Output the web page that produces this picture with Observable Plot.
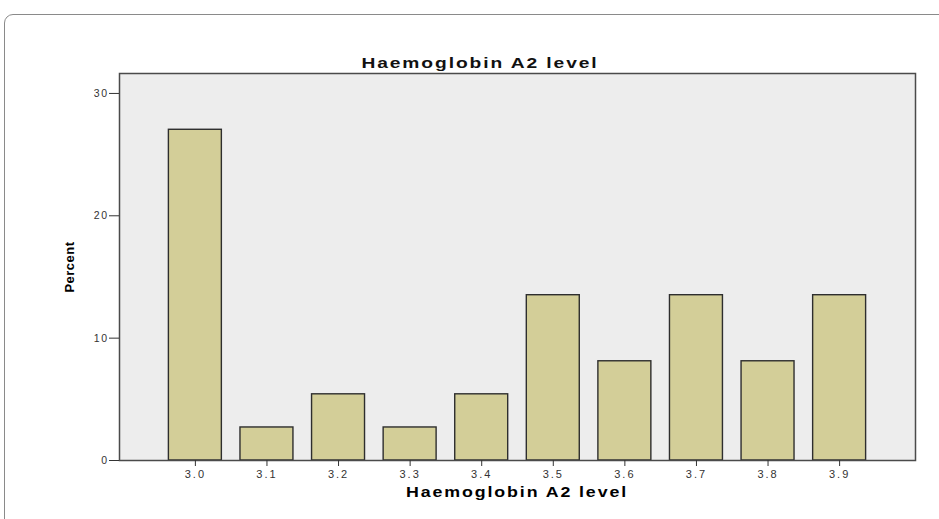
<!DOCTYPE html>
<html>
<head>
<meta charset="utf-8">
<script src="https://cdn.jsdelivr.net/npm/d3@7"></script>
<script src="https://cdn.jsdelivr.net/npm/@observablehq/plot@0.6"></script>
<style>
  html, body { margin: 0; padding: 0; background: #fff; }
  #wrap { position: relative; width: 939px; height: 519px; overflow: hidden; font-family: "Liberation Sans", Arial, sans-serif; }
  #border { position: absolute; left: 4px; top: 14px; width: 960px; height: 540px; border: 1.5px solid #8a8a8a; border-radius: 9px; box-sizing: border-box; }
  #title { position: relative; height: 55px; width: 939px; }
  #title span { position: absolute; left: 480px; top: 55px; white-space: nowrap; font-size: 15px; line-height: 15px; font-weight: bold; letter-spacing: 1.5px; color: #111; transform: translateX(-50%) scaleX(1.28); transform-origin: center; }
  #chart { position: relative; }
  #chart svg { display: block; }
  #xlabel { position: relative; height: 35px; width: 939px; }
  #xlabel span { position: absolute; left: 517px; top: 1px; white-space: nowrap; font-size: 14px; line-height: 14px; font-weight: bold; letter-spacing: 1.5px; color: #000; transform: translateX(-50%) scaleX(1.27); transform-origin: center; }
  g[aria-label="y-axis label"] text { font-weight: bold; font-size: 13px; letter-spacing: 0.5px; fill: #000; }
  g[aria-label="x-axis tick label"] text { font-size: 11px; letter-spacing: 2px; fill: #333; }
  g[aria-label="y-axis tick label"] text { font-size: 10.5px; letter-spacing: 1.5px; fill: #333; }
</style>
</head>
<body>
<div id="wrap">
  <div id="border"></div>
  <div id="title"><span>Haemoglobin A2 level</span></div>
  <div id="chart"></div>
  <div id="xlabel"><span>Haemoglobin A2 level</span></div>
</div>
<script>
const levels = ["3.0", "3.1", "3.2", "3.3", "3.4", "3.5", "3.6", "3.7", "3.8", "3.9"];
const percents = [27.03, 2.70, 5.41, 2.70, 5.41, 13.51, 8.11, 13.51, 8.11, 13.51];
const yTicks = [0, 10, 20, 30];

const data = levels.map((l, i) => ({level: l, percent: percents[i]}));

const chart = Plot.plot({
  width: 939,
  height: 429,
  marginLeft: 119,
  marginRight: 24,
  marginTop: 18,
  marginBottom: 24,
  style: { fontFamily: "Liberation Sans, Arial, sans-serif", fontSize: "10px", background: "transparent" },
  x: { type: "band", domain: levels, paddingInner: 0.26, paddingOuter: 0.69, align: 0.5, round: false, label: null },
  y: { domain: [0, 31.63], label: null },
  marks: [
    Plot.frame({ fill: "#ededed", stroke: null }),
    Plot.barY(data, { x: "level", y: "percent", fill: "#d3ce98", stroke: "#2e2e2e", strokeWidth: 1.4 }),
    Plot.frame({ stroke: "#4a4a4a", strokeWidth: 1.5 }),
    Plot.axisY({ ticks: yTicks, tickSize: 10, tickPadding: 1, stroke: "#333", label: "Percent", labelAnchor: "center", labelArrow: false, labelOffset: 55 }),
    Plot.axisX({ tickSize: 6, tickPadding: 4, stroke: "#333", label: null })
  ]
});
document.getElementById("chart").appendChild(chart);
</script>
</body>
</html>
